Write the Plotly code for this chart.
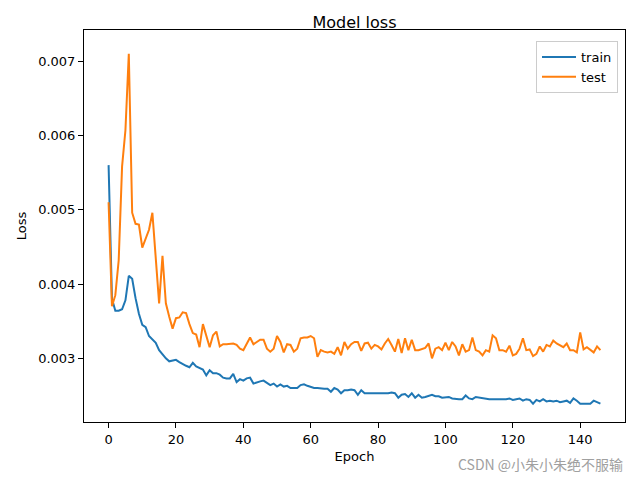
import plotly.graph_objects as go

train = [
    0.00560, 0.00380, 0.00364, 0.00364, 0.00366, 0.00378, 0.00411, 0.00407, 0.00381, 0.00360,
    0.00345, 0.00342, 0.00330, 0.00325, 0.00321, 0.00311, 0.00305, 0.00300, 0.00296, 0.00297,
    0.00298, 0.00295, 0.00292, 0.00290, 0.00288, 0.00294, 0.00289, 0.00287, 0.00285, 0.00277,
    0.00284, 0.00280, 0.00280, 0.00278, 0.00274, 0.00273, 0.00273, 0.00279, 0.00268, 0.00272,
    0.00270, 0.00273, 0.00274, 0.00266, 0.00268, 0.00269, 0.00270, 0.00267, 0.00264, 0.00266,
    0.00262, 0.00265, 0.00262, 0.00263, 0.00260, 0.00260, 0.00260, 0.00264, 0.00265, 0.00263,
    0.00261, 0.00260, 0.00260, 0.00259, 0.00259, 0.00259, 0.00255, 0.00260, 0.00258, 0.00253,
    0.00257, 0.00257, 0.00258, 0.00257, 0.00251, 0.00257, 0.00253, 0.00253, 0.00253, 0.00253,
    0.00252, 0.00252, 0.00253, 0.00253, 0.00254, 0.00253, 0.00247, 0.00251, 0.00252, 0.00248,
    0.00253, 0.00247, 0.00251, 0.00247, 0.00248, 0.00250, 0.00251, 0.00249, 0.00249, 0.00247,
    0.00248, 0.00248, 0.00246, 0.00245, 0.00245, 0.00245, 0.00250, 0.00246, 0.00245, 0.00248,
    0.00247, 0.00246, 0.00245, 0.00245, 0.00245, 0.00245, 0.00244, 0.00245, 0.00245, 0.00246,
    0.00244, 0.00245, 0.00246, 0.00243, 0.00245, 0.00244, 0.00239, 0.00244, 0.00242, 0.00245,
    0.00242, 0.00243, 0.00242, 0.00243, 0.00241, 0.00242, 0.00243, 0.00240, 0.00246, 0.00243,
    0.00239, 0.00239, 0.00239, 0.00239, 0.00243, 0.00241, 0.00239,
]

test = [
    0.00510, 0.00370, 0.00385, 0.00432, 0.00558, 0.00607, 0.00710, 0.00496, 0.00481, 0.00480,
    0.00449, 0.00462, 0.00473, 0.00496, 0.00435, 0.00374, 0.00438, 0.00374, 0.00356, 0.00340,
    0.00354, 0.00355, 0.00362, 0.00361, 0.00346, 0.00334, 0.00332, 0.00315, 0.00346, 0.00332,
    0.00315, 0.00331, 0.00336, 0.00316, 0.00319, 0.00319, 0.00320, 0.00320, 0.00318, 0.00313,
    0.00311, 0.00320, 0.00328, 0.00319, 0.00322, 0.00325, 0.00325, 0.00313, 0.00309, 0.00313,
    0.00330, 0.00322, 0.00308, 0.00319, 0.00318, 0.00309, 0.00313, 0.00327, 0.00328, 0.00328,
    0.00330, 0.00327, 0.00302, 0.00311, 0.00309, 0.00308, 0.00309, 0.00306, 0.00315, 0.00304,
    0.00322, 0.00313, 0.00319, 0.00322, 0.00322, 0.00310, 0.00320, 0.00321, 0.00313, 0.00318,
    0.00316, 0.00312, 0.00320, 0.00326, 0.00318, 0.00309, 0.00326, 0.00307, 0.00327, 0.00311,
    0.00325, 0.00311, 0.00311, 0.00312, 0.00314, 0.00320, 0.00300, 0.00313, 0.00315, 0.00311,
    0.00321, 0.00311, 0.00322, 0.00316, 0.00304, 0.00319, 0.00309, 0.00311, 0.00328, 0.00311,
    0.00309, 0.00304, 0.00311, 0.00309, 0.00331, 0.00327, 0.00311, 0.00311, 0.00309, 0.00317,
    0.00304, 0.00306, 0.00313, 0.00327, 0.00311, 0.00312, 0.00303, 0.00306, 0.00316, 0.00309,
    0.00318, 0.00316, 0.00324, 0.00320, 0.00318, 0.00315, 0.00320, 0.00311, 0.00311, 0.00308,
    0.00335, 0.00312, 0.00315, 0.00311, 0.00308, 0.00316, 0.00311,
]

epochs = list(range(len(train)))
x_ticks = [0, 20, 40, 60, 80, 100, 120, 140]
y_ticks = [0.003, 0.004, 0.005, 0.006, 0.007]
y_tick_labels = ["0.003", "0.004", "0.005", "0.006", "0.007"]
y_range = [0.002143, 0.007419]

FONT = "DejaVu Sans"

fig = go.Figure()
fig.add_trace(go.Scatter(x=epochs, y=train, mode="lines", name="train",
                         line=dict(color="#1f77b4", width=2)))
fig.add_trace(go.Scatter(x=epochs, y=test, mode="lines", name="test",
                         line=dict(color="#ff7f0e", width=2)))

n = len(train) - 1

axis_common = dict(showline=True, linecolor="black", linewidth=1, mirror=True,
                   ticks="outside", ticklen=5, tickwidth=1, tickcolor="black",
                   showgrid=False, zeroline=False,
                   tickfont=dict(family=FONT, size=13, color="black"))

fig.update_layout(
    width=640, height=480,
    margin=dict(l=84, r=15, t=30, b=58),
    paper_bgcolor="white", plot_bgcolor="white",
    font=dict(family=FONT, color="black"),
    title=dict(text="Model loss", x=0.5, xref="paper", xanchor="center",
               y=1 - 22 / 480, yanchor="middle",
               font=dict(family=FONT, size=16, color="black")),
    xaxis=dict(range=[-0.05 * n, 1.05 * n], tickvals=x_ticks,
               title=dict(text="Epoch", font=dict(family=FONT, size=13), standoff=6),
               **axis_common),
    yaxis=dict(range=y_range, tickvals=y_ticks,
               ticktext=y_tick_labels,
               title=dict(text="Loss", font=dict(family=FONT, size=13), standoff=8),
               **axis_common),
    legend=dict(x=1 - 7 / 541, y=1 - 11 / 392, xanchor="right", yanchor="top",
                bgcolor="rgba(255,255,255,0.8)", bordercolor="#cccccc", borderwidth=1,
                font=dict(family=FONT, size=13, color="black"),
                itemwidth=34, tracegroupgap=2),
    showlegend=True,
)

fig.add_annotation(text="CSDN @小朱小朱绝不服输", xref="paper", yref="paper",
                   x=1.0, xanchor="right", y=-(464 - 422) / 392, yanchor="middle",
                   showarrow=False,
                   font=dict(family="Noto Sans CJK SC", size=14, color="#a0a0a0"))

fig.write_html("out.html")
